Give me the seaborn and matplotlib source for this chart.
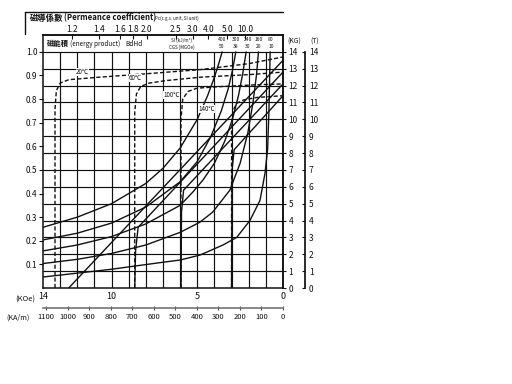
import matplotlib
import matplotlib.pyplot as plt
import seaborn as sns
from matplotlib.lines import Line2D

matplotlib.use("Agg")

# ---------------------------------------------------------------------------
# Data (H in kOe, B in kG)
# ---------------------------------------------------------------------------

# intrinsic curves (dashed)
j20_h = [13.3, 13.3, 13.22, 13.0, 12.5, 10.7, 8.0, 4.8, 2.0, 0.0]
j20_b = [0.0, 10.6, 11.7, 12.15, 12.35, 12.5, 12.7, 12.95, 13.3, 13.7]
j60_h = [8.65, 8.65, 8.55, 8.3, 7.8, 6.8, 4.8, 2.0, 0.0]
j60_b = [0.0, 10.4, 11.5, 11.95, 12.15, 12.3, 12.5, 12.65, 12.8]
j100_h = [5.95, 5.95, 5.85, 5.55, 5.0, 3.5, 1.5, 0.0]
j100_b = [0.0, 10.0, 11.2, 11.65, 11.85, 11.95, 12.05, 12.1]
j140_h = [3.0, 3.0, 2.92, 2.7, 2.3, 1.5, 0.0]
j140_b = [0.0, 9.4, 10.5, 10.95, 11.15, 11.3, 11.4]

# normal curves (solid)
n20_h = [0.0, 12.5]
n20_b = [13.5, 0.0]
n60_h = [0.0, 8.45, 8.6, 8.65]
n60_b = [12.8, 3.6, 2.2, 0.0]
n100_h = [0.0, 5.8, 5.92, 5.95]
n100_b = [12.1, 5.8, 4.5, 0.0]
n140_h = [0.0, 2.85, 2.97, 3.0]
n140_b = [11.4, 8.2, 7.0, 0.0]

# energy product curves BdHd (solid)
bh10_h = [14.0, 13.4, 10.1, 7.2, 6.0, 4.85, 3.5, 2.7, 1.93, 1.34, 1.05, 0.9, 0.82, 0.78, 0.75]
bh10_b = [0.65, 0.72, 1.1, 1.5, 1.66, 1.95, 2.55, 3.0, 4.0, 5.2, 6.8, 8.2, 10.5, 12.5, 14.0]
bh20_h = [14.0, 12.0, 10.0, 8.0, 6.0, 4.85, 4.1, 3.1, 2.5, 2.05, 1.75, 1.55, 1.43]
bh20_b = [1.45, 1.7, 2.05, 2.55, 3.3, 3.9, 4.5, 5.8, 7.4, 9.2, 11.0, 12.6, 14.0]
bh30_h = [14.0, 12.0, 10.0, 8.0, 6.0, 5.25, 4.67, 4.0, 3.4, 2.95, 2.6, 2.35, 2.15]
bh30_b = [2.2, 2.55, 3.05, 3.8, 4.9, 5.7, 6.4, 7.4, 8.7, 10.0, 11.4, 12.7, 14.0]
bh38_h = [14.0, 12.0, 10.0, 8.0, 6.0, 5.0, 4.2, 3.6, 3.2, 2.95, 2.75]
bh38_b = [2.85, 3.25, 3.85, 4.8, 6.3, 7.5, 9.0, 10.5, 11.8, 12.9, 14.0]
bh50_h = [14.0, 12.0, 10.0, 8.0, 7.0, 6.0, 5.0, 4.4, 4.0, 3.75, 3.55]
bh50_b = [3.6, 4.2, 5.0, 6.2, 7.1, 8.3, 10.0, 11.4, 12.5, 13.3, 14.0]

temp_labels = ["20℃", "60℃", "100℃", "140℃"]
temp_label_h = [11.7, 8.6, 6.5, 4.45]
temp_label_b = [12.8, 12.45, 11.45, 10.6]

# top scales
perm_labels = ["1.2", "1.4", "1.6", "1.8", "2.0", "2.5", "3.0", "4.0", "5.0", "10.0"]
perm_h = [12.3, 10.75, 9.5, 8.75, 7.95, 6.25, 5.25, 4.35, 3.25, 2.2]
bh_si_labels = ["400", "300", "240", "160", "80"]
bh_cgs_labels = ["50", "38", "30", "20", "10"]
bh_label_h = [3.55, 2.75, 2.05, 1.4, 0.7]

# axis scales
left_labels = ["0.1", "0.2", "0.3", "0.4", "0.5", "0.6", "0.7", "0.8", "0.9", "1.0"]
left_values = [0.1, 0.2, 0.3, 0.4, 0.5, 0.6, 0.7, 0.8, 0.9, 1.0]
kg_ticks = list(range(0, 15))
koe_ticks = [14, 10, 5, 0]
kam_ticks = [1100, 1000, 900, 800, 700, 600, 500, 400, 300, 200, 100, 0]

# ---------------------------------------------------------------------------
# Figure
# ---------------------------------------------------------------------------

sns.set_theme(style="white")
plt.rcParams["font.family"] = ["Noto Sans CJK TC", "DejaVu Sans"]

fig = plt.figure(figsize=(5.12, 3.84), dpi=100)
ax = fig.add_axes([43 / 512, 96 / 384, 240 / 512, 253 / 384])
ax.set_xlim(14, 0)
ax.set_ylim(0, 15)

# grid (only up to 14 kG, the band above is the label row)
ink = "#111111"
ax.vlines(range(1, 14), 0, 14, color=ink, lw=0.85)
ax.hlines(range(1, 15), 14, 0, color=ink, lw=0.85)
for s in ax.spines.values():
    s.set_color(ink)
    s.set_linewidth(1.1)

# curves
line_kw = dict(color=ink, lw=1.0, sort=False, estimator=None, legend=False, ax=ax)
for hs, bs in [(j20_h, j20_b), (j60_h, j60_b), (j100_h, j100_b), (j140_h, j140_b)]:
    sns.lineplot(x=hs, y=bs, **line_kw).lines[-1].set_dashes((3, 1.6))
for hs, bs in [(n20_h, n20_b), (n60_h, n60_b), (n100_h, n100_b), (n140_h, n140_b),
               (bh10_h, bh10_b), (bh20_h, bh20_b), (bh30_h, bh30_b),
               (bh38_h, bh38_b), (bh50_h, bh50_b)]:
    sns.lineplot(x=hs, y=bs, **line_kw)

for lab, h, b in zip(temp_labels, temp_label_h, temp_label_b):
    ax.text(h, b, lab, fontsize=4.5, ha="center", va="center", color=ink,
            bbox=dict(facecolor="white", edgecolor="none", pad=0.2))

# energy product row
ax.text(13.75, 14.5, "磁能積", fontsize=5.3, fontweight="bold", va="center", ha="left", color=ink)
ax.text(12.45, 14.45, "(energy product)", fontsize=4.6, va="center", ha="left", color=ink)
ax.text(9.2, 14.45, "BdHd", fontsize=4.8, va="center", ha="left", color=ink)
ax.text(5.9, 14.7, "SI (kJ/m³)", fontsize=3.3, va="center", ha="center", color=ink)
ax.text(5.9, 14.3, "CGS (MGOe)", fontsize=3.3, va="center", ha="center", color=ink)
for si, cgs, h in zip(bh_si_labels, bh_cgs_labels, bh_label_h):
    ax.text(h, 14.72, si, fontsize=3.6, va="center", ha="center", color=ink)
    ax.text(h, 14.3, cgs, fontsize=3.6, va="center", ha="center", color=ink)

# left scale
ax.set_yticks([v * 14 for v in left_values])
ax.set_yticklabels(left_labels)
ax.tick_params(axis="y", which="both", left=True, direction="out", length=3,
               width=0.8, color=ink, labelsize=6, pad=1, labelcolor=ink)

# bottom kOe scale
ax.set_xticks(koe_ticks)
ax.set_xticklabels([str(t) for t in koe_ticks])
ax.tick_params(axis="x", length=0, labelsize=6.5, pad=3, labelcolor=ink)
fig.text(15 / 512, 1 - 300 / 384, "(KOe)", fontsize=5.5, va="center", color=ink)

# bottom kA/m scale
kam = ax.secondary_xaxis(-0.079, functions=(lambda h: h * 79.577, lambda k: k / 79.577))
kam.set_xticks(kam_ticks)
kam.set_xticklabels([str(t) for t in kam_ticks])
kam.spines["bottom"].set_color("0.45")
kam.spines["bottom"].set_linewidth(1.2)
kam.tick_params(axis="x", direction="inout", length=3, width=0.8, color="0.3",
                labelsize=5.5, pad=2, labelcolor=ink)
fig.text(6 / 512, 1 - 318 / 384, "(KA/m)", fontsize=5.2, va="center", color=ink)

# top permeance scale
perm = ax.secondary_xaxis("top")
perm.set_xticks(perm_h)
perm.set_xticklabels(perm_labels)
perm.tick_params(axis="x", direction="in", length=3, width=0.8, color=ink,
                 labelsize=6, pad=1, labelcolor=ink)

# right kG scales
r1 = ax.secondary_yaxis("right")
r1.set_yticks(kg_ticks)
r1.set_yticklabels([str(t) for t in kg_ticks])
r1.tick_params(axis="y", direction="out", length=2, width=0.8, color=ink,
               labelsize=6, pad=2, labelcolor=ink)
r2 = ax.secondary_yaxis(1.09)
r2.set_yticks(kg_ticks)
r2.set_yticklabels([str(t) for t in kg_ticks])
r2.spines["right"].set_bounds(0, 14)
r2.spines["right"].set_color(ink)
r2.tick_params(axis="y", direction="in", length=2, width=0.8, color=ink,
               labelsize=6, pad=3, labelcolor=ink)
ax.text(1.02, 14.6, "(KG)", transform=ax.get_yaxis_transform(), fontsize=5,
        va="center", ha="left", color=ink)
ax.text(1.115, 14.6, "(T)", transform=ax.get_yaxis_transform(), fontsize=5,
        va="center", ha="left", color=ink)

# header box with title
fig.add_artist(Line2D([25 / 512, 283 / 512], [1 - 12 / 384] * 2, color=ink, lw=1.0))
fig.add_artist(Line2D([25 / 512] * 2, [1 - 12 / 384, 1 - 34 / 384], color=ink, lw=1.0))
fig.text(30 / 512, 1 - 18 / 384, "磁導係數", fontsize=6, fontweight="bold", va="center", color=ink)
fig.text(64 / 512, 1 - 18 / 384, "(Permeance coefficient)", fontsize=5.6,
         fontweight="bold", va="center", color=ink)
fig.text(155 / 512, 1 - 18 / 384, "Pc(c.g.s. unit, SI unit)", fontsize=3.2, va="center", color=ink)

fig.savefig("out.png", dpi=100)
